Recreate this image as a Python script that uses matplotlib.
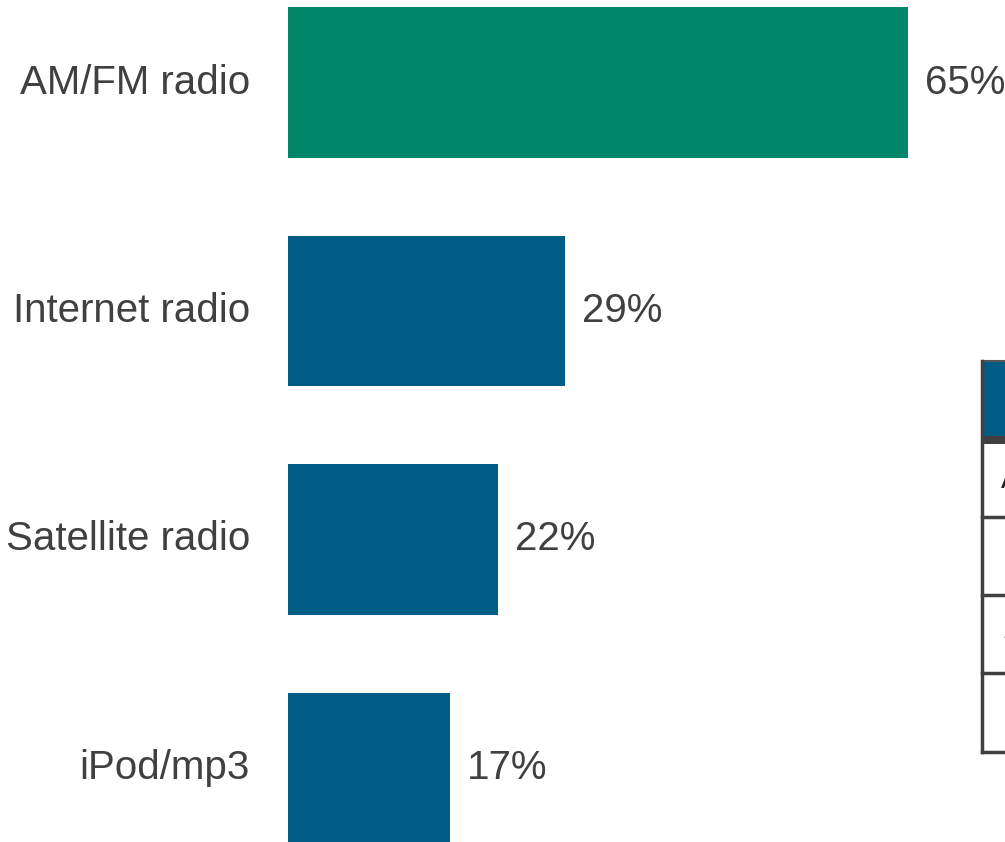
import matplotlib
matplotlib.use("Agg")
import matplotlib.pyplot as plt
from matplotlib.patches import Rectangle
from matplotlib.lines import Line2D

categories = ["AM/FM radio", "Internet radio", "Satellite radio", "iPod/mp3"]
values = [65, 29, 22, 17]
value_labels = ["65%", "29%", "22%", "17%"]
bar_colors = ["#00876A", "#005B85", "#005B85", "#005B85"]
table_rows = ["AM/FM radio", "Internet radio", "Satellite radio", "iPod/mp3"]

W, H = 1005, 842
plt.rcParams['font.family'] = ['Liberation Sans', 'DejaVu Sans']
fig = plt.figure(figsize=(W / 100, H / 100), dpi=100)

px_per_unit = 9.54
left_px = 288
ax = fig.add_axes([left_px / W, 0, (W - left_px) / W, 1])
ax.set_xlim(0, (W - left_px) / px_per_unit)
spacing = 228.5
c0 = 82.5
ax.set_ylim((H - c0) / spacing, -c0 / spacing)
ypos = list(range(len(categories)))
ax.barh(ypos, values, height=0.66, color=bar_colors, left=0)
ax.axis('off')

text_color = "#404040"
for i, (v, lab) in enumerate(zip(values, value_labels)):
    ax.annotate(lab, xy=(v, i), xytext=(17, 0), textcoords='offset pixels',
                ha='left', va='center', fontsize=29, color=text_color)
for i, cat in enumerate(categories):
    ax.annotate(cat, xy=(0, i), xytext=(-38, 0), textcoords='offset pixels',
                ha='right', va='center', fontsize=29, color=text_color,
                annotation_clip=False)

# Partially visible table on the right edge (pixel coordinates -> figure fraction)
def fx(x):
    return x / W

def fy(y):
    return 1 - y / H

tleft, ttop, hdr_bot, band_bot = 982, 361, 436, 444
row_lines = [517, 595, 673, 752]
border = "#404040"
fig.patches.append(Rectangle((fx(tleft), fy(hdr_bot)), fx(W + 50) - fx(tleft),
                             fy(ttop) - fy(hdr_bot), transform=fig.transFigure,
                             facecolor="#005B85", edgecolor='none'))
fig.patches.append(Rectangle((fx(tleft), fy(band_bot)), fx(W + 50) - fx(tleft),
                             fy(hdr_bot) - fy(band_bot), transform=fig.transFigure,
                             facecolor=border, edgecolor='none'))
fig.lines.append(Line2D([fx(tleft), fx(W + 50)], [fy(ttop), fy(ttop)],
                        transform=fig.transFigure, color="#555555", lw=1.5))
fig.lines.append(Line2D([fx(tleft), fx(tleft)], [fy(ttop), fy(row_lines[-1])],
                        transform=fig.transFigure, color=border, lw=2.5))
for yl in row_lines:
    fig.lines.append(Line2D([fx(tleft), fx(W + 50)], [fy(yl), fy(yl)],
                            transform=fig.transFigure, color=border, lw=2.5))
row_tops = [band_bot] + row_lines[:-1]
text_x = [1001, 1012, 1003, 1003]
for lab, top, bot, tx in zip(table_rows, row_tops, row_lines, text_x):
    fig.text(fx(tx), fy((top + bot) / 2), lab, ha='left', va='center',
             fontsize=22, color="#222222")

fig.savefig("out.png", dpi=100, facecolor='white')
